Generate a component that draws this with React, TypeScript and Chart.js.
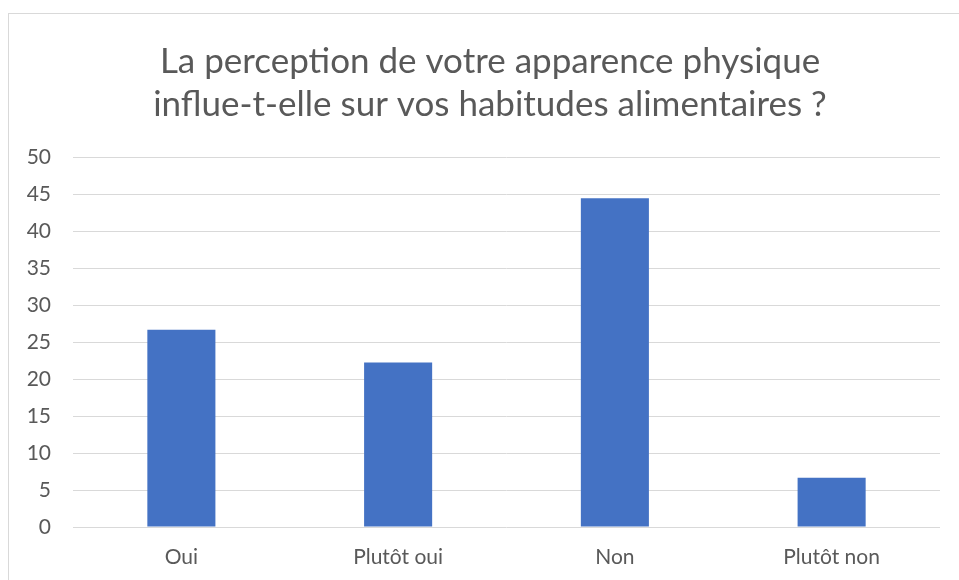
import React, { useEffect, useRef } from "react";
import { Chart, registerables } from "chart.js";

Chart.register(...registerables);

const titleLines = [
  "La perception de votre apparence physique",
  "influe-t-elle sur vos habitudes alimentaires ?",
];
const categories = ["Oui", "Plutôt oui", "Non", "Plutôt non"];
const values = [26.67, 22.22, 44.44, 6.67];
const yMin = 0;
const yMax = 50;
const yStep = 5;

const FONT = "Lato, 'Open Sans', sans-serif";
const TEXT = "#595959";
const GRID = "#d9d9d9";
const BAR = "#4472C4";

const titlePlugin = {
  id: "centeredTitle",
  afterDraw(chart: any) {
    const ctx = chart.ctx;
    ctx.save();
    ctx.fillStyle = TEXT;
    ctx.font = `35px ${FONT}`;
    ctx.textAlign = "center";
    ctx.textBaseline = "middle";
    const cx = 490;
    titleLines.forEach((line, i) => {
      ctx.fillText(line, cx, 62 + i * 43);
    });
    ctx.restore();
  },
};

export default function App() {
  const ref = useRef<HTMLCanvasElement>(null);
  useEffect(() => {
    if (!ref.current) return;
    const chart = new Chart(ref.current, {
      type: "bar",
      data: {
        labels: categories,
        datasets: [
          {
            data: values,
            backgroundColor: BAR,
            barPercentage: 0.314,
            categoryPercentage: 1,
          },
        ],
      },
      plugins: [titlePlugin],
      options: {
        animation: false,
        responsive: false,
        maintainAspectRatio: false,
        layout: { padding: { left: 0, right: 19, top: 157, bottom: 0 } },
        plugins: {
          legend: { display: false },
          tooltip: { enabled: false },
          title: { display: false },
        },
        scales: {
          x: {
            grid: { display: false, drawTicks: false },
            border: { display: false },
            ticks: {
              color: TEXT,
              font: { family: FONT, size: 21 },
              padding: 18,
              maxRotation: 0,
            },
            afterFit: (scale: any) => {
              scale.height = 53;
            },
          },
          y: {
            min: yMin,
            max: yMax,
            grid: { color: GRID, lineWidth: 1, drawTicks: false },
            border: { display: false },
            ticks: {
              stepSize: yStep,
              color: TEXT,
              font: { family: FONT, size: 21 },
              padding: 22,
            },
            afterFit: (scale: any) => {
              scale.width = 73;
            },
          },
        },
      },
    });
    return () => chart.destroy();
  }, []);
  return (
    <div style={{ position: "fixed", left: 0, top: 0, width: 959, height: 580, background: "#fff" }}>
      <div
        style={{
          position: "absolute",
          left: 8,
          top: 13,
          width: 960,
          height: 580,
          border: "1px solid #d9d9d9",
          boxSizing: "border-box",
        }}
      />
      <canvas ref={ref} width={959} height={580} style={{ position: "absolute", left: 0, top: 0 }} />
    </div>
  );
}
